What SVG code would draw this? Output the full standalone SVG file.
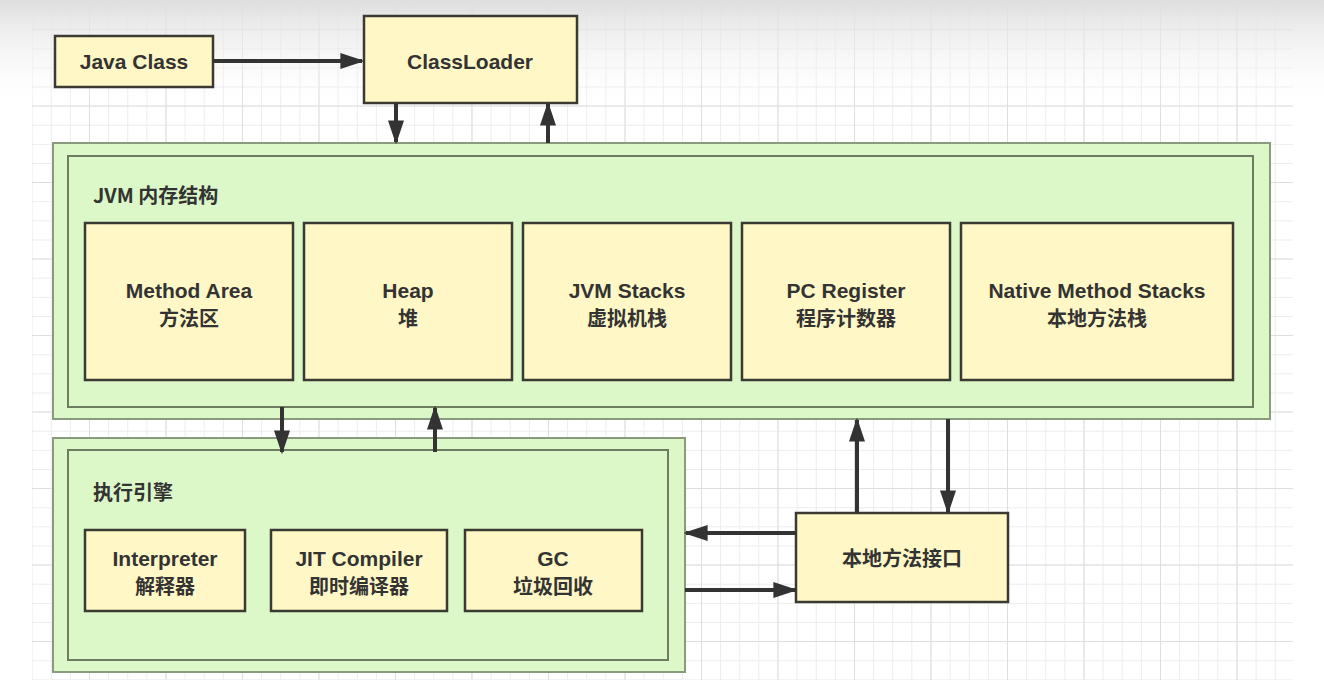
<svg xmlns="http://www.w3.org/2000/svg" width="1324" height="696" viewBox="0 0 1324 696">
<defs>
<pattern id="minor" patternUnits="userSpaceOnUse" x="12.5" y="10" width="19.125" height="19.125">
<path d="M0.5 0V19.125M0 0.5H19.125" stroke="#ececec" stroke-width="1" fill="none"/>
</pattern>
<pattern id="major" patternUnits="userSpaceOnUse" x="12.5" y="29" width="76.5" height="76.5">
<path d="M0.5 0V76.5M0 0.5H76.5" stroke="#dedede" stroke-width="1" fill="none"/>
</pattern>
<linearGradient id="shade" x1="0" y1="0" x2="0" y2="1">
<stop offset="0" stop-color="#dedede" stop-opacity="1"/>
<stop offset="1" stop-color="#ffffff" stop-opacity="0"/>
</linearGradient>
<marker id="ah" viewBox="0 0 10 10" refX="9" refY="5" markerWidth="6" markerHeight="4" markerUnits="strokeWidth" orient="auto" preserveAspectRatio="none">
<path d="M0 0L10 5L0 10z" fill="#333"/>
</marker>
<style>
.e{font-family:"Liberation Sans",Arial,sans-serif;font-weight:bold;font-size:21px;fill:#333;text-anchor:middle}
.z{font-family:"Noto Sans CJK SC",sans-serif;font-weight:bold;font-size:20px;fill:#333;text-anchor:middle}
.lbl{font-family:"Noto Sans CJK SC","Noto Sans",sans-serif;font-weight:bold;font-size:20px;fill:#333}
.y{fill:#fff8c6;stroke:#3a3a32;stroke-width:2.5}
.go{fill:#dcf8c8;stroke:#8a9a7c;stroke-width:2}
.gi{fill:#dcf8c8;stroke:#6e7c62;stroke-width:2}
.c{stroke:#333;stroke-width:4;fill:none;marker-end:url(#ah)}
</style>
</defs>
<rect width="1324" height="696" fill="#ffffff"/>
<rect x="32" y="0" width="1261" height="680" fill="url(#minor)"/>
<rect x="32" y="0" width="1261" height="680" fill="url(#major)"/>
<rect x="0" y="0" width="1324" height="110" fill="url(#shade)"/>

<g id="java-class">
<rect class="y" x="55" y="36" width="158" height="51"/>
<text class="e" x="134" y="69">Java Class</text>
</g>
<g id="classloader">
<rect class="y" x="364" y="16" width="213" height="87"/>
<text class="e" x="470" y="69">ClassLoader</text>
</g>

<g id="jvm-memory">
<rect class="go" x="53" y="143" width="1217" height="276"/>
<rect class="gi" x="68" y="156" width="1185" height="251"/>
<text class="lbl" x="93" y="203">JVM 内存结构</text>
</g>
<g id="method-area">
<rect class="y" x="85" y="223" width="208" height="157"/>
<text class="e" x="189" y="298">Method Area</text>
<text class="z" x="189" y="326">方法区</text>
</g>
<g id="heap">
<rect class="y" x="304" y="223" width="208" height="157"/>
<text class="e" x="408" y="298">Heap</text>
<text class="z" x="408" y="326">堆</text>
</g>
<g id="jvm-stacks">
<rect class="y" x="523" y="223" width="208" height="157"/>
<text class="e" x="627" y="298">JVM Stacks</text>
<text class="z" x="627" y="326">虚拟机栈</text>
</g>
<g id="pc-register">
<rect class="y" x="742" y="223" width="208" height="157"/>
<text class="e" x="846" y="298">PC Register</text>
<text class="z" x="846" y="326">程序计数器</text>
</g>
<g id="native-method-stacks">
<rect class="y" x="961" y="223" width="272" height="157"/>
<text class="e" x="1097" y="298">Native Method Stacks</text>
<text class="z" x="1097" y="326">本地方法栈</text>
</g>

<g id="execution-engine">
<rect class="go" x="53" y="438" width="632" height="234"/>
<rect class="gi" x="68" y="450" width="600" height="210"/>
<text class="lbl" x="93" y="500">执行引擎</text>
</g>
<g id="interpreter">
<rect class="y" x="85" y="530" width="160" height="81"/>
<text class="e" x="165" y="566">Interpreter</text>
<text class="z" x="165" y="594">解释器</text>
</g>
<g id="jit-compiler">
<rect class="y" x="271" y="530" width="176" height="81"/>
<text class="e" x="359" y="566">JIT Compiler</text>
<text class="z" x="359" y="594">即时编译器</text>
</g>
<g id="gc">
<rect class="y" x="465" y="530" width="177" height="81"/>
<text class="e" x="553" y="566">GC</text>
<text class="z" x="553" y="594">垃圾回收</text>
</g>

<g id="native-interface">
<rect class="y" x="796" y="513" width="212" height="89"/>
<text class="z" x="902" y="566">本地方法接口</text>
</g>

<g id="connectors">
<line class="c" x1="213" y1="61" x2="362" y2="61"/>
<line class="c" x1="396" y1="103" x2="396" y2="142"/>
<line class="c" x1="548" y1="143" x2="548" y2="104"/>
<line class="c" x1="282" y1="407" x2="282" y2="452"/>
<line class="c" x1="435" y1="452" x2="435" y2="408"/>
<line class="c" x1="857" y1="513" x2="857" y2="420"/>
<line class="c" x1="948" y1="419" x2="948" y2="512"/>
<line class="c" x1="796" y1="533" x2="686" y2="533"/>
<line class="c" x1="685" y1="590" x2="795" y2="590"/>
</g>
</svg>
